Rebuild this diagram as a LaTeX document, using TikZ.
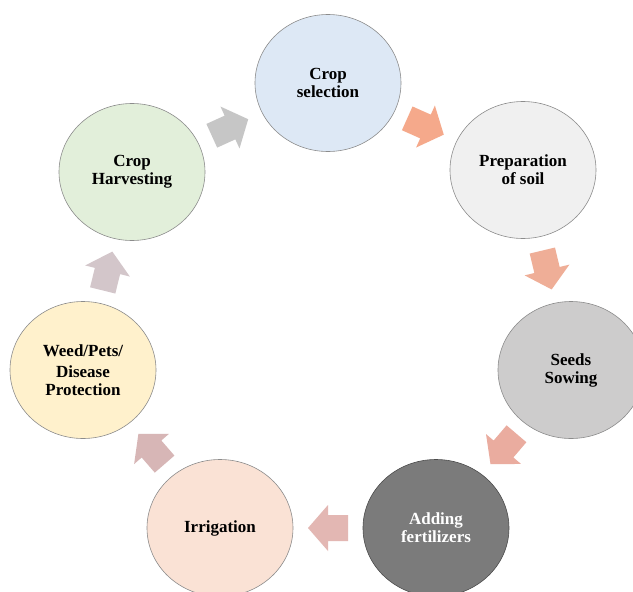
\documentclass[tikz,border=0pt]{standalone}
\usepackage{fontspec}
\setmainfont{Liberation Serif}
\usetikzlibrary{shapes.geometric,calc}

\definecolor{cSel}{HTML}{DDE8F5}
\definecolor{cPrep}{HTML}{F0F0F0}
\definecolor{cSeed}{HTML}{CDCCCC}
\definecolor{cFert}{HTML}{7B7B7B}
\definecolor{cIrr}{HTML}{FAE2D5}
\definecolor{cWeed}{HTML}{FFF1CC}
\definecolor{cHarv}{HTML}{E2EFDA}
\definecolor{aOne}{HTML}{C6C6C6}
\definecolor{aTwo}{HTML}{F5A98B}
\definecolor{aThree}{HTML}{EFAE97}
\definecolor{aFour}{HTML}{EAAC9F}
\definecolor{aFive}{HTML}{E3B7B3}
\definecolor{aSix}{HTML}{D7B6B6}
\definecolor{aSeven}{HTML}{D3C6CA}

\tikzset{
  stage/.style={ellipse, draw=black!45, line width=0.6pt,
    minimum width=146pt, minimum height=137pt, inner sep=0pt,
    align=center, font=\fontsize{17}{18}\selectfont\bfseries},
  pics/flowarrow/.style={code={
    \fill[#1] (-20,-13) -- (0,-13) -- (0,-23) -- (20,0) -- (0,23) -- (0,13) -- (-20,13) -- cycle;
  }}
}

% block arrow halfway between two stages, pointing from the first to the second
\newcommand{\stagearrow}[3]{%
  \path let \p1 = ($(#2)-(#1)$), \n1 = {atan2(\y1,\x1)} in
    pic[rotate=\n1] at ($(#1)!0.5!(#2)$) {flowarrow=#3};
}

\begin{document}
\begin{tikzpicture}[x=1pt,y=-1pt]
\useasboundingbox[fill=white] (0,0) rectangle (633,592);

\node[stage, fill=cSel]  (sel)  at (328,83)  {Crop\\selection};
\node[stage, fill=cPrep] (prep) at (523,170) {Preparation\\of soil};
\node[stage, fill=cSeed] (seed) at (571,370) {Seeds\\Sowing};
\node[stage, fill=cFert, draw=black!70, text=white] (fert) at (436,528) {Adding\\fertilizers};
\node[stage, fill=cIrr]  (irr)  at (220,528) {Irrigation};
\node[stage, fill=cWeed] (weed) at (83,370)  {Weed/Pets/\\[3pt]Disease\\Protection};
\node[stage, fill=cHarv] (harv) at (132,172) {Crop\\Harvesting};

\stagearrow{harv}{sel}{aOne}
\stagearrow{sel}{prep}{aTwo}
\stagearrow{prep}{seed}{aThree}
\stagearrow{seed}{fert}{aFour}
\stagearrow{fert}{irr}{aFive}
\stagearrow{irr}{weed}{aSix}
\stagearrow{weed}{harv}{aSeven}
\end{tikzpicture}
\end{document}
